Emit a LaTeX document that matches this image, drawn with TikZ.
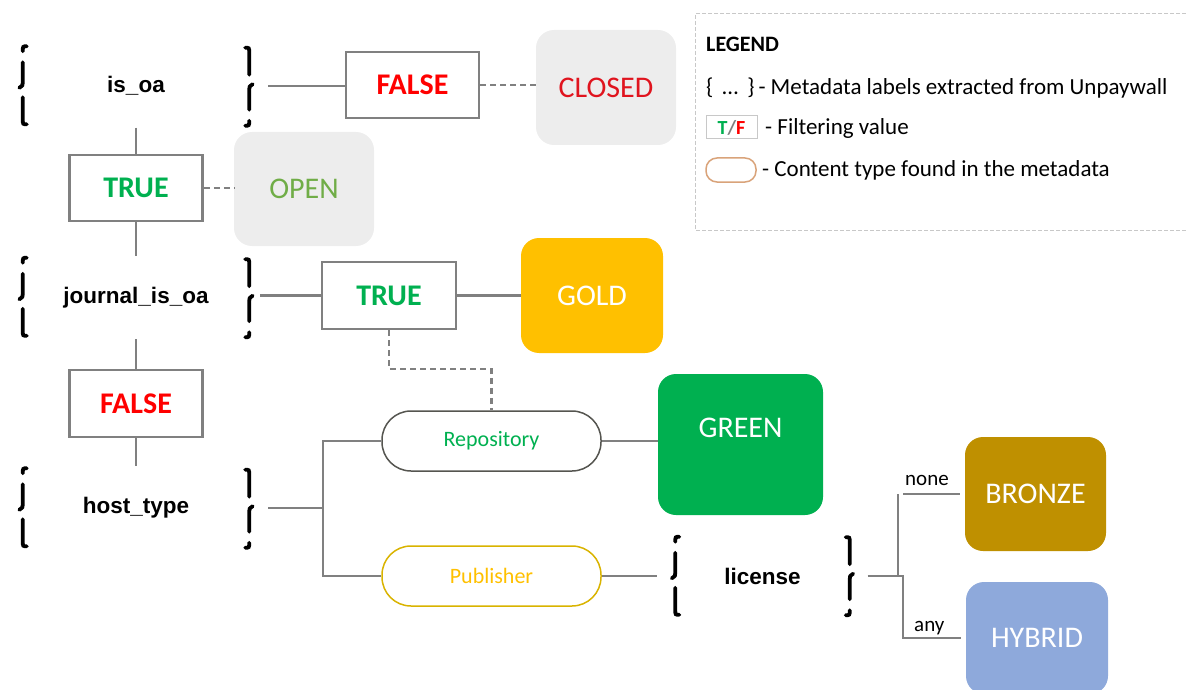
\documentclass[tikz,border=0pt]{standalone}
\usepackage{fontspec}
\setmainfont{Carlito}
\newfontfamily\arialf{Liberation Sans}
\usetikzlibrary{calc}
\definecolor{lngray}{HTML}{808080}
\definecolor{tgreen}{HTML}{00B050}
\definecolor{fred}{HTML}{FF0000}
\definecolor{cred}{HTML}{E0141E}
\definecolor{ogreen}{HTML}{70AD47}
\definecolor{boxgray}{HTML}{EDEDED}
\definecolor{goldc}{HTML}{FFC000}
\definecolor{greenc}{HTML}{00B050}
\definecolor{bronzec}{HTML}{BF9000}
\definecolor{hybridc}{HTML}{8EA9DB}
\definecolor{publine}{HTML}{D9B300}
\definecolor{repline}{HTML}{555550}
\definecolor{legline}{HTML}{C8C8C8}
\definecolor{orangeline}{HTML}{D9A37A}
\newcommand{\mybraces}[2]{%
  \foreach \cc/\rr in {north west/0, south east/180} {
    \begin{scope}[shift={(#1.\cc)}, rotate=\rr]
      \draw[brc] ({#2+7},2) .. controls ({#2+3},2) .. ({#2+3},7);
      \draw[brc] ({#2+3},18) -- ({#2+3},38) .. controls ({#2+3},41) .. ({#2-0.5},43.5);
      \draw[brc] ({#2+3},53) -- ({#2+3},75) .. controls ({#2+3},80) .. ({#2+7},80);
    \end{scope}}}
\begin{document}
\begin{tikzpicture}[x=1pt,y=-1pt,
  ln/.style={draw=lngray, line width=2.2pt},
  dsh/.style={ln, dash pattern=on 6pt off 4pt},
  brc/.style={draw=black, line width=3.8pt, line cap=round},
  blab/.style={font=\arialf\bfseries\fontsize{22.5}{26}\selectfont, minimum width=264pt, minimum height=83pt, inner sep=0pt},
  tf/.style={draw=lngray, line width=2.5pt, minimum width=133pt, minimum height=66pt, font=\bfseries\fontsize{30}{34}\selectfont, inner sep=0pt},
  cbox/.style={rounded corners=18pt, minimum width=140pt, minimum height=115pt, text=white, font=\fontsize{30}{34}\selectfont, inner sep=0pt},
  pill/.style={rounded corners=29pt, minimum width=219pt, minimum height=60pt, line width=1.5pt, font=\fontsize{22}{26}\selectfont, inner sep=0pt},
  lgt/.style={font=\fontsize{23}{27}\selectfont, anchor=base west, inner sep=0pt},
  lbl/.style={font=\fontsize{21}{25}\selectfont, anchor=base west, inner sep=0pt}
]
\useasboundingbox (0,0) rectangle (1186,690);

% legend frame
\draw[legline, line width=1pt, dash pattern=on 4pt off 2pt] (1186,14) -- (695,14) -- (695,230) -- (1186,230);
\node[lgt, font=\bfseries\fontsize{22}{26}\selectfont] (legt) at (706,52) {LEGEND};
\node[lgt] (leg1) at (706,95) {\{\hspace{9pt}…\hspace{9pt}\}\hspace{4pt}- Metadata labels extracted from Unpaywall};
\node[draw=legline, line width=1pt, minimum width=51pt, minimum height=23pt, inner sep=0pt,
      font=\bfseries\fontsize{20}{24}\selectfont] (legtf) at (731.5,127.5)
      {\textcolor{tgreen}{T}\textcolor{lngray}{/}\textcolor{fred}{F}};
\node[lgt] (leg2) at (765,135) {- Filtering value};
\node[draw=orangeline, line width=1.5pt, rounded corners=11pt, minimum width=50pt, minimum height=24pt, inner sep=0pt] (legpill) at (731,170) {};
\node[lgt] (leg3) at (762,176.5) {- Content type found in the metadata};

% braced metadata labels
\node[blab] (isoa) at (136,86) {is\_oa};
\node[blab] (jisoa) at (136,297.5) {journal\_is\_oa};
\node[blab] (host) at (136,508) {host\_type};
\node[blab, minimum width=210pt, minimum height=82pt] (lic) at (762.5,576) {license};
\mybraces{isoa}{16}
\mybraces{jisoa}{16}
\mybraces{host}{16}
\mybraces{lic}{15}

% filtering values
\node[tf, text=fred] (f1) at (412.5,85) {FALSE};
\node[tf, text=tgreen] (t1) at (136,188) {TRUE};
\node[tf, text=tgreen, minimum width=134pt, minimum height=67pt] (t2) at (389,295.5) {TRUE};
\node[tf, text=fred, minimum height=67pt] (f2) at (136,403.5) {FALSE};

% outcome boxes
\node[cbox, fill=boxgray, text=cred] (closed) at (606,87.5) {CLOSED};
\node[cbox, fill=boxgray, text=ogreen, minimum height=114pt] (open) at (304,189) {OPEN};
\node[cbox, fill=goldc, minimum width=142pt] (gold) at (592,295.5) {GOLD};
\node[cbox, fill=greenc, minimum width=165pt, minimum height=141pt, text depth=33pt] (green) at (740.5,444.5) {GREEN};
\node[cbox, fill=bronzec, minimum width=141pt, minimum height=114pt] (bronze) at (1035.5,494) {BRONZE};
\node[cbox, fill=hybridc, minimum width=142pt, minimum height=112pt] (hybrid) at (1037,638) {HYBRID};

% content types
\node[pill, draw=repline, text=tgreen] (repo) at (491.5,441) {Repository};
\node[pill, draw=publine, text=goldc] (pub) at (491.5,576) {Publisher};

% junctions
\coordinate (j1) at (323,508);
\coordinate (j2) at (903,576);

% connectors
\draw[ln] (isoa.east) -- (isoa.east -| f1.west);
\draw[dsh] (f1.east) -- (f1.east -| closed.west);
\draw[ln] (isoa.south) -- (t1.north);
\draw[dsh] (t1.east) -- (t1.east -| open.west);
\draw[ln] (t1.south) -- (jisoa.north);
\draw[ln] ([xshift=-8pt]t2.west -| jisoa.east) -- (t2.west);
\draw[ln] (t2.east) -- (gold.west);
\draw[dsh] (t2.south) -- ++(0,39) -| (repo.north);
\draw[ln] (jisoa.south) -- (f2.north);
\draw[ln] (f2.south) -- (host.north);
\draw[ln] (host.east) -- (j1);
\draw[ln] (repo.west) -| (j1) |- (pub.west);
\draw[ln] (repo.east) -- (repo.east -| green.west);
\draw[ln] (pub.east) -- (lic.west);
\draw[ln] (lic.east) -- (j2);
\draw[ln] ([xshift=-5pt]bronze.west -| j2) |- (j2) |- ([xshift=-5pt]hybrid.west);
\draw[ln] (j2 |- bronze.west) -- ([xshift=-5pt]bronze.west);
\node[lbl] (none) at (905,485) {none};
\node[lbl] (any) at (914,631) {any};
\end{tikzpicture}
\end{document}
